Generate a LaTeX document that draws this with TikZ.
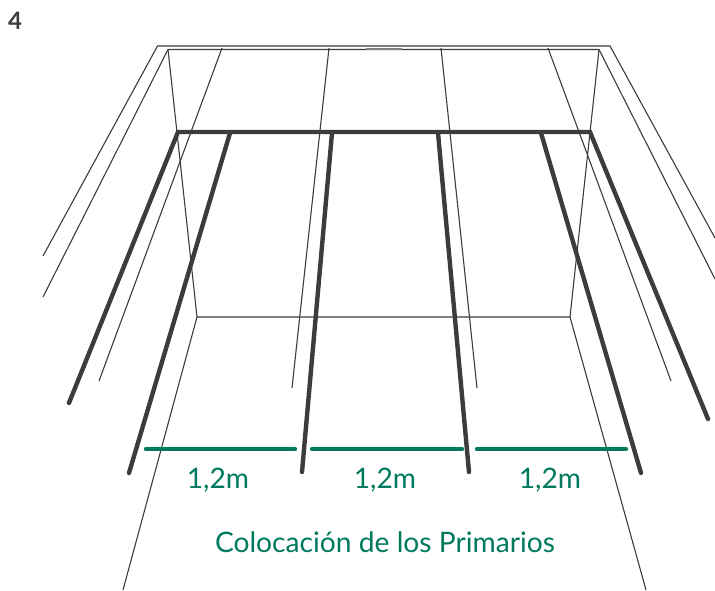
\documentclass[tikz,border=0pt]{standalone}
\usepackage{fontspec}
\setmainfont{Lato}
\definecolor{primgreen}{HTML}{007A5E}
\definecolor{beamgray}{HTML}{3C3C3B}
\tikzset{
	wire/.style={draw=beamgray, line width=1.1pt},
	beam/.style={draw=beamgray, line width=4.4pt, line cap=round},
	span/.style={draw=primgreen, line width=4.4pt, line cap=round},
	spanlabel/.style={text=primgreen, font=\fontsize{28.2}{28.2}\selectfont}
}
\begin{document}
\begin{tikzpicture}[x=1pt, y=-1pt]
\useasboundingbox (0,0) rectangle (715,590);
% step number
\node[text=beamgray, font=\fontsize{24}{24}\selectfont\bfseries] (stepnum) at (15,21) {4};
% top frame
\draw[wire] (43,256) -- (157.5,46) -- (610,46) -- (715,238);
\draw[wire] (43,297) -- (168,49.5) -- (599,49.5) -- (715,279);
\draw[draw=gray, line width=1.5pt] (366,49) -- (402,49);
% back wall and floor
\draw[wire] (168,49.5) -- (197,317) -- (570,317) -- (599,49.5);
\draw[wire] (197,317) -- (123,590);
\draw[wire] (570,317) -- (646,590);
% thin rails
\draw[wire] (222,48) -- (99,381);
\draw[wire] (329,48) -- (292,388);
\draw[wire] (441,48) -- (477,388);
\draw[wire] (548,48) -- (671,381);
% primaries
\draw[beam] (69,403) -- (178,132) -- (590,132) -- (708,419);
\draw[beam] (230,133) -- (129,473);
\draw[beam] (332,133) -- (302,472);
\draw[beam] (438,133) -- (469,472);
\draw[beam] (541,133) -- (641,473);
% spacing
\draw[span] (146,449) -- (295,449);
\draw[span] (312,449) -- (462,449);
\draw[span] (477,449) -- (626,449);
\node[spanlabel] (spana) at (218,480) {1,2m};
\node[spanlabel] (spanb) at (385,480) {1,2m};
\node[spanlabel] (spanc) at (550,480) {1,2m};
\node[spanlabel] (caption) at (385,542) {Colocación de los Primarios};
\end{tikzpicture}
\end{document}
